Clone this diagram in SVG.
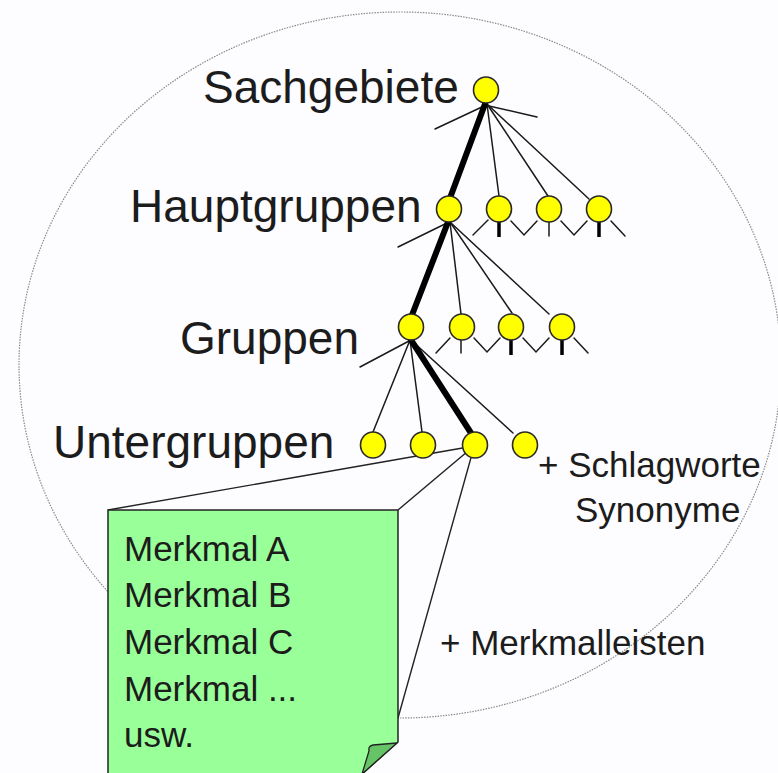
<svg xmlns="http://www.w3.org/2000/svg" width="778" height="773" viewBox="0 0 778 773">
  <style>
    .lbl { font-family: "Liberation Sans", Arial, sans-serif; fill: #1c1c1c; }
    .big { font-size: 46px; }
    .mid { font-size: 35px; }
    .node { fill: #ffff00; stroke: #2a2a2a; stroke-width: 1.6; }
    .thin { stroke: #1a1a1a; stroke-width: 1.5; fill: none; stroke-linecap: round; }
    .thick { stroke: #000; stroke-width: 6; fill: none; stroke-linecap: round; }
    .stub { stroke: #000; stroke-width: 3.5; fill: none; }
    .call { stroke: #222; stroke-width: 1.4; fill: none; }
  </style>

  <rect width="778" height="773" fill="#fdfcff"/>

  <!-- outer boundary -->
  <ellipse id="boundary" cx="400" cy="365" rx="381" ry="353" fill="none" stroke="#8a8a8a" stroke-width="1.2" stroke-dasharray="1.5 1.2"/>

  <!-- level labels -->
  <g id="labels">
    <text class="lbl big" x="203" y="103">Sachgebiete</text>
    <text class="lbl big" x="130" y="222">Hauptgruppen</text>
    <text class="lbl big" x="180" y="354">Gruppen</text>
    <text class="lbl big" x="53" y="458">Untergruppen</text>
    <text class="lbl mid" x="538" y="477">+ Schlagworte</text>
    <text class="lbl mid" x="575" y="522">Synonyme</text>
    <text class="lbl mid" x="440" y="655">+ Merkmalleisten</text>
  </g>

  <!-- connectors -->
  <g id="connectors">
    <!-- Sachgebiete fan -->
    <line class="thin" x1="484" y1="106" x2="435" y2="129"/>
    <line class="thin" x1="489" y1="106" x2="537" y2="117"/>
    <line class="thin" x1="487" y1="104" x2="499" y2="196"/>
    <line class="thin" x1="487" y1="104" x2="548" y2="196"/>
    <line class="thin" x1="487" y1="104" x2="589" y2="199"/>
    <line class="thick" x1="485" y1="104" x2="450" y2="198"/>

    <!-- Hauptgruppen siblings -->
    <polyline class="thin" points="473,235 488,220"/>
    <line class="stub" x1="499" y1="221" x2="499" y2="237"/>
    <polyline class="thin" points="511,221 524,235 537,221"/>
    <line class="thin" x1="549" y1="221" x2="549" y2="236"/>
    <polyline class="thin" points="561,221 574,235 587,221"/>
    <line class="stub" x1="599" y1="221" x2="599" y2="237"/>
    <polyline class="thin" points="611,221 625,236"/>

    <!-- Hauptgruppen fan -->
    <line class="thin" x1="447" y1="223" x2="398" y2="247"/>
    <line class="thin" x1="450" y1="222" x2="461" y2="314"/>
    <line class="thin" x1="450" y1="222" x2="512" y2="313"/>
    <line class="thin" x1="450" y1="222" x2="549" y2="314"/>
    <line class="thick" x1="448" y1="222" x2="412" y2="315"/>

    <!-- Gruppen siblings -->
    <polyline class="thin" points="436,353 450,338"/>
    <line class="thin" x1="461" y1="339" x2="461" y2="353"/>
    <polyline class="thin" points="474,338 487,352 500,338"/>
    <line class="stub" x1="511" y1="339" x2="511" y2="355"/>
    <polyline class="thin" points="523,338 536,352 549,338"/>
    <line class="stub" x1="562" y1="339" x2="562" y2="355"/>
    <polyline class="thin" points="574,338 588,353"/>

    <!-- Gruppen fan -->
    <line class="thin" x1="409" y1="341" x2="360" y2="367"/>
    <line class="thin" x1="410" y1="340" x2="373" y2="432"/>
    <line class="thin" x1="410" y1="340" x2="422" y2="432"/>
    <line class="thin" x1="411" y1="340" x2="513" y2="433"/>
    <line class="thick" x1="411" y1="340" x2="471" y2="433"/>

    <!-- callout rays from the note -->
    <line class="call" x1="108" y1="510" x2="474" y2="446"/>
    <line class="call" x1="398" y1="510" x2="474" y2="446"/>
    <line class="call" x1="398" y1="718" x2="474" y2="447"/>
  </g>

  <!-- tree nodes -->
  <g id="n-sachgebiete"><ellipse class="node" cx="486" cy="90" rx="12.5" ry="13"/></g>
  <g id="n-haupt-1"><ellipse class="node" cx="449" cy="209" rx="12.5" ry="13"/></g>
  <g id="n-haupt-2"><ellipse class="node" cx="499" cy="209" rx="12.5" ry="13"/></g>
  <g id="n-haupt-3"><ellipse class="node" cx="549" cy="209" rx="12.5" ry="13"/></g>
  <g id="n-haupt-4"><ellipse class="node" cx="599" cy="209" rx="12.5" ry="13"/></g>
  <g id="n-gruppe-1"><ellipse class="node" cx="411" cy="327" rx="12.5" ry="13"/></g>
  <g id="n-gruppe-2"><ellipse class="node" cx="462" cy="327" rx="12.5" ry="13"/></g>
  <g id="n-gruppe-3"><ellipse class="node" cx="511" cy="327" rx="12.5" ry="13"/></g>
  <g id="n-gruppe-4"><ellipse class="node" cx="562" cy="327" rx="12.5" ry="13"/></g>
  <g id="n-unter-1"><ellipse class="node" cx="373" cy="445" rx="12.5" ry="13"/></g>
  <g id="n-unter-2"><ellipse class="node" cx="423" cy="445" rx="12.5" ry="13"/></g>
  <g id="n-unter-3"><ellipse class="node" cx="475" cy="445" rx="12.5" ry="13"/></g>
  <g id="n-unter-4"><ellipse class="node" cx="525" cy="445" rx="12.5" ry="13"/></g>

  <!-- feature note -->
  <g id="n-merkmale">
    <path d="M108,510 H398 V742 L361,775 H108 Z" fill="#99ff99" stroke="#222" stroke-width="1.5"/>
    <path d="M397,743 L373,745 Q368,746 369,751 L362,774 Z" fill="#66c466" stroke="#222" stroke-width="1.3" stroke-linejoin="round"/>
    <text class="lbl mid" x="124" y="561">Merkmal A</text>
    <text class="lbl mid" x="124" y="607">Merkmal B</text>
    <text class="lbl mid" x="124" y="654">Merkmal C</text>
    <text class="lbl mid" x="124" y="701">Merkmal ...</text>
    <text class="lbl mid" x="124" y="747">usw.</text>
  </g>
</svg>
